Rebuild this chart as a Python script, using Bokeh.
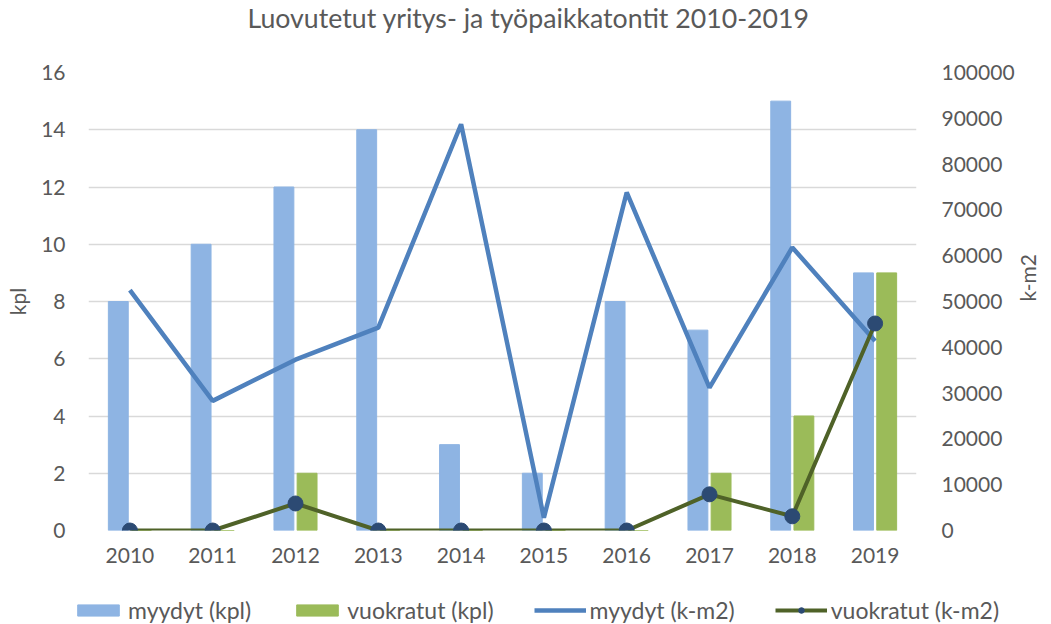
import math
from bokeh.plotting import figure
from bokeh.layouts import column
from bokeh.models import (ColumnDataSource, FactorRange, Range1d, LinearAxis,
                          Legend, LegendItem, FixedTicker, Title, NumeralTickFormatter)
from bokeh.transform import dodge
from bokeh.embed import file_html
from bokeh.resources import INLINE

years = ["2010", "2011", "2012", "2013", "2014", "2015", "2016", "2017", "2018", "2019"]
myydyt_kpl = [8, 10, 12, 14, 3, 2, 8, 7, 15, 9]
vuokratut_kpl = [0, 0, 2, 0, 0, 0, 0, 2, 4, 9]
myydyt_km2 = [52500, 28300, 37300, 44300, 88700, 2800, 73800, 31200, 61800, 41400]
vuokratut_km2 = [0, 0, 5900, 0, 0, 0, 0, 7900, 3100, 45200]
series_names = ["myydyt (kpl)", "vuokratut (kpl)", "myydyt (k-m2)", "vuokratut (k-m2)"]

FONT = "Lato"
TXT = "#595959"
C_BAR1, C_BAR2, C_LINE1, C_LINE2, C_DOT = "#8EB4E3", "#9BBB59", "#4F81BD", "#4F6228", "#2C4A73"

src = ColumnDataSource(dict(year=years, mk=myydyt_kpl, vk=vuokratut_kpl,
                            mm=myydyt_km2, vm=vuokratut_km2))


def draw_series(fig, y_name):
    b1 = fig.vbar(x=dodge("year", -0.14, range=fig.x_range), top="mk", width=0.24,
                  source=src, color=C_BAR1)
    b2 = fig.vbar(x=dodge("year", 0.14, range=fig.x_range), top="vk", width=0.24,
                  source=src, color=C_BAR2)
    l1 = fig.line(x="year", y="mm", source=src, y_range_name=y_name,
                  line_color=C_LINE1, line_width=4.5)
    l2 = fig.line(x="year", y="vm", source=src, y_range_name=y_name,
                  line_color=C_LINE2, line_width=4)
    s2 = fig.scatter(x="year", y="vm", source=src, y_range_name=y_name,
                     size=15, fill_color=C_DOT, line_color=C_DOT)
    return b1, b2, l1, l2, s2


p = figure(x_range=FactorRange(factors=years), y_range=Range1d(0, 16),
           frame_width=828, frame_height=458,
           output_backend="svg", toolbar_location=None,
           min_border_left=88, min_border_right=131, min_border_top=72,
           min_border_bottom=46)
p.extra_y_ranges = {"km2": Range1d(0, 100000)}
p.title = None

p.add_layout(Title(text=" ", text_font_size="1px", standoff=34), "above")
p.add_layout(Title(text="Luovutetut yritys- ja työpaikkatontit 2010-2019",
                   align="left", vertical_align="top", text_font=FONT,
                   text_font_size="26.7px", text_color=TXT,
                   text_font_style="normal", offset=159, standoff=0), "above")

draw_series(p, "km2")

right = LinearAxis(y_range_name="km2", axis_label="k-m2",
                   ticker=FixedTicker(ticks=list(range(0, 100001, 10000))),
                   formatter=NumeralTickFormatter(format="0"))
p.add_layout(right, "right")
if "axis_label_orientation" in right.properties():
    right.axis_label_orientation = math.pi / 2

p.yaxis[0].ticker = FixedTicker(ticks=list(range(0, 17, 2)))
p.yaxis[0].axis_label = "kpl"

for ax in [p.yaxis[0], right, p.xaxis[0]]:
    ax.axis_line_color = None
    ax.major_tick_line_color = None
    ax.minor_tick_line_color = None
    ax.major_tick_in = 0
    ax.major_tick_out = 0
    ax.minor_tick_in = 0
    ax.minor_tick_out = 0
    ax.major_label_text_font = FONT
    ax.major_label_text_font_size = "21px"
    ax.major_label_text_color = TXT
    ax.axis_label_text_font = FONT
    ax.axis_label_text_font_size = "21px"
    ax.axis_label_text_color = TXT
    ax.axis_label_text_font_style = "normal"

p.yaxis[0].major_label_standoff = 23
p.yaxis[0].axis_label_standoff = 8
right.major_label_standoff = 25
right.axis_label_standoff = 10
p.xaxis[0].major_label_standoff = 17

p.xgrid.grid_line_color = None
p.ygrid.grid_line_color = "#D9D9D9"
p.ygrid.grid_line_width = 1.5
p.outline_line_color = None

# legend strip below the chart: same series drawn out of view, legend only
lf = figure(width=1051, height=48, x_range=FactorRange(factors=years),
            y_range=Range1d(1e7, 1e7 + 1),
            x_axis_type=None, y_axis_type=None, output_backend="svg",
            toolbar_location=None, min_border=0)
lf.extra_y_ranges = {"km2": Range1d(1e7, 1e7 + 1)}
lf.grid.grid_line_color = None
lf.outline_line_color = None
lf.title = None
for fig in (p, lf):
    if "frame_align" in fig.properties():
        fig.frame_align = False

g1, g2, g3, g4, g5 = draw_series(lf, "km2")

legend = Legend(items=[
    LegendItem(label=series_names[0], renderers=[g1]),
    LegendItem(label=series_names[1], renderers=[g2]),
    LegendItem(label=series_names[2], renderers=[g3]),
    LegendItem(label=series_names[3], renderers=[g4, g5]),
], orientation="horizontal", location=(72, 0),
    glyph_width=52, glyph_height=14, spacing=40, label_standoff=4,
    label_text_font=FONT, label_text_font_size="23px", label_text_color=TXT,
    border_line_color=None, background_fill_alpha=0, padding=0, margin=0)
lf.add_layout(legend, "center")

layout = column(p, lf, spacing=0)
open("out.html", "w").write(file_html(layout, INLINE))
